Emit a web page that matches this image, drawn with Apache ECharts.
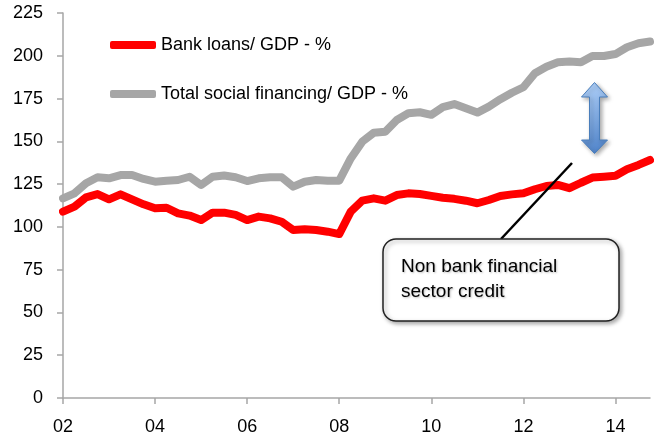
<!DOCTYPE html>
<html>
<head>
<meta charset="utf-8">
<script src="https://cdn.jsdelivr.net/npm/echarts@6/dist/echarts.min.js"></script>
<style>
    html, body {margin: 0; padding: 0; background: #fff;}
    #chart {width: 669px; height: 441px;}
</style>
</head>
<body>
<div id="chart"></div>
<script>
// years shown on the axis, data is quarterly (4 points per year)
var years = ['02', '03', '04', '05', '06', '07', '08', '09', '10', '11', '12', '13', '14'];
var yTicks = [0, 25, 50, 75, 100, 125, 150, 175, 200, 225];

// Bank loans/ GDP - %
var bankLoans = [
    108.9, 111.8, 117.3, 119.2, 116.1, 119.0, 116.1, 113.2,
    110.9, 111.2, 107.9, 106.6, 104.0, 108.3, 108.3, 107.0,
    104.0, 106.0, 105.0, 103.0, 98.2, 98.6, 98.2, 97.2,
    95.8, 108.9, 115.3, 116.7, 115.3, 118.6, 119.6, 119.2,
    118.1, 117.0, 116.4, 115.3, 113.8, 115.7, 118.1, 119.0,
    119.6, 122.0, 123.9, 124.5, 122.6, 125.8, 128.8, 129.3,
    129.9, 133.7, 136.2, 139.1
];

// Total social financing/ GDP - %
var socialFinancing = [
    116.7, 119.6, 125.5, 129.0, 128.4, 130.3, 130.3, 128.0,
    126.4, 127.0, 127.4, 129.3, 124.5, 129.3, 130.0, 129.0,
    126.8, 128.4, 129.0, 129.0, 123.5, 126.4, 127.4, 127.0,
    127.0, 140.0, 149.8, 155.0, 155.6, 162.5, 166.4, 167.0,
    165.5, 170.0, 171.8, 169.3, 166.8, 170.3, 174.6, 178.4,
    181.6, 189.8, 193.6, 196.2, 196.6, 196.2, 199.9, 199.9,
    201.0, 205.0, 207.3, 208.3
];

var quarters = [];
years.forEach(function(y) {
    for (var q = 1; q <= 4; q++) {
        quarters.push(y + ' Q' + q);
    }
});
quarters = quarters.slice(0, bankLoans.length);

var font = 'Liberation Sans';
var axisColor = '#a6a6a6';
var shadow = {shadowBlur: 4, shadowOffsetX: 2, shadowOffsetY: 2, shadowColor: 'rgba(0,0,0,0.35)'};

var myChart = echarts.init(document.getElementById('chart'));
var option = {
    animation: false,
    grid: {left: 63, right: 19, top: 13, bottom: 43},
    legend: {
        orient: 'vertical',
        left: 105,
        top: 30,
        itemWidth: 46,
        itemHeight: 8,
        itemGap: 29,
        icon: 'roundRect',
        textStyle: {fontFamily: font, fontSize: 18, color: '#000', lineHeight: 20},
        data: ['Bank loans/ GDP - %', 'Total social financing/ GDP - %']
    },
    xAxis: {
        type: 'category',
        boundaryGap: false,
        data: quarters,
        axisLine: {lineStyle: {color: axisColor, width: 1.5}},
        axisTick: {interval: 7, length: 6, lineStyle: {color: axisColor, width: 1.5}},
        axisLabel: {
            interval: 7,
            margin: 20,
            fontFamily: font,
            fontSize: 18,
            color: '#000',
            formatter: function(v) { return v.slice(0, 2); }
        },
        splitLine: {show: false}
    },
    yAxis: {
        type: 'value',
        min: yTicks[0],
        max: yTicks[yTicks.length - 1],
        interval: 25,
        axisLine: {show: true, lineStyle: {color: axisColor, width: 1.5}},
        axisTick: {show: true, length: 6, lineStyle: {color: axisColor, width: 1.5}},
        axisLabel: {margin: 20, fontFamily: font, fontSize: 18, color: '#000'},
        splitLine: {show: false}
    },
    series: [
        {
            name: 'Bank loans/ GDP - %',
            type: 'line',
            data: bankLoans,
            symbol: 'none',
            color: '#ff0000',
            lineStyle: {width: 8, color: '#ff0000', cap: 'round', join: 'round'},
            z: 3
        },
        {
            name: 'Total social financing/ GDP - %',
            type: 'line',
            data: socialFinancing,
            symbol: 'none',
            color: '#a6a6a6',
            lineStyle: {width: 8, color: '#a6a6a6', cap: 'round', join: 'round'},
            z: 2
        }
    ],
    graphic: [
        // pointer line to the box
        {
            type: 'line',
            z: 10,
            shape: {x1: 572, y1: 163, x2: 501, y2: 239},
            style: {stroke: '#000', lineWidth: 2.5}
        },
        // callout box
        {
            type: 'rect',
            z: 11,
            shape: {x: 383, y: 239, width: 236, height: 82, r: 13},
            style: Object.assign({fill: '#fff', stroke: '#222', lineWidth: 1.5}, shadow)
        },
        {
            type: 'text',
            z: 12,
            left: 401,
            top: 254,
            style: {
                text: 'Non bank financial\nsector credit',
                fontFamily: font,
                fontSize: 19,
                lineHeight: 25,
                fill: '#000',
                textShadowBlur: 2,
                textShadowOffsetX: 1,
                textShadowOffsetY: 1,
                textShadowColor: 'rgba(0,0,0,0.25)'
            }
        },
        // double arrow
        {
            type: 'polygon',
            z: 10,
            shape: {
                points: [
                    [594.5, 82.5], [607.5, 97], [599.5, 97], [599.5, 140],
                    [607.5, 140], [594.5, 153.5], [581.5, 140], [589.5, 140],
                    [589.5, 97], [581.5, 97]
                ]
            },
            style: Object.assign({
                fill: new echarts.graphic.LinearGradient(0, 0, 1, 1, [
                    {offset: 0, color: '#b3d3fa'},
                    {offset: 1, color: '#4a7fc7'}
                ]),
                stroke: '#4a7ebb',
                lineWidth: 1
            }, shadow)
        }
    ]
};
myChart.setOption(option);
</script>
</body>
</html>
